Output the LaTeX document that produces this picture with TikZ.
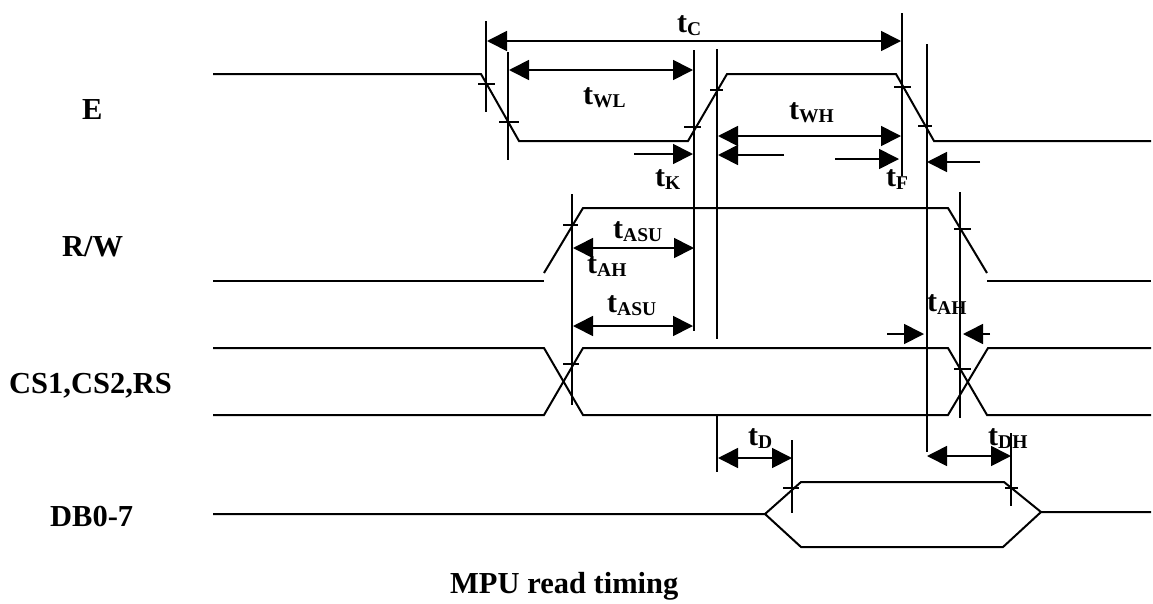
\documentclass[tikz,border=0pt]{standalone}
\usepackage{fontspec}
\setmainfont{Liberation Serif}
\usetikzlibrary{arrows.meta}
\newcommand{\tlab}[1]{{\fontsize{30}{30}\selectfont t}\raisebox{-3pt}{\fontsize{19.5}{20}\selectfont #1}}
\tikzset{
  wave/.style={line width=2pt,line join=miter},
  vline/.style={line width=1.7pt},
  tickmark/.style={line width=1.4pt},
  dimm/.style={line width=1.7pt,{Triangle[length=20pt,width=20pt]}-{Triangle[length=20pt,width=20pt]}},
  oneway/.style={line width=1.7pt,-{Triangle[length=20pt,width=20pt]}},
  lab/.style={inner sep=0pt,anchor=base west,font=\bfseries},
  siglab/.style={inner sep=0pt,anchor=base west,font=\bfseries\fontsize{30.5}{31}\selectfont}
}
\begin{document}
\begin{tikzpicture}[x=1pt,y=-1pt]
\useasboundingbox (0,0) rectangle (1153,603);
% labels
\node[siglab] (lE) at (82,119) {E};
\node[siglab] (lRW) at (62,256) {R/W};
\node[siglab] (lCS) at (9,393) {CS1,CS2,RS};
\node[siglab] (lDB) at (50,526) {DB0-7};
\node[siglab] (lT) at (450,593) {MPU read timing};
\node[lab] (tC) at (677,32) {\tlab{C}};
\node[lab] (tWL) at (583,104) {\tlab{WL}};
\node[lab] (tK) at (655,186) {\tlab{K}};
\node[lab] (tWH) at (789,119) {\tlab{WH}};
\node[lab] (tF) at (886,186) {\tlab{F}};
\node[lab] (tASUa) at (613,238) {\tlab{ASU}};
\node[lab] (tAHa) at (587,273) {\tlab{AH}};
\node[lab] (tASUb) at (607,312) {\tlab{ASU}};
\node[lab] (tAHb) at (927,311) {\tlab{AH}};
\node[lab] (tD) at (748,445) {\tlab{D}};
\node[lab] (tDH) at (988,445) {\tlab{DH}};
% waveforms
\draw[wave] (213,74) -- (481,74) -- (519,141) -- (688,141) -- (727,74) -- (896,74) -- (934,141) -- (1151,141);
\draw[wave] (213,281) -- (544,281);
\draw[wave] (544,273) -- (583,208) -- (948,208) -- (987,273);
\draw[wave] (987,281) -- (1151,281);
\draw[wave] (213,348) -- (544,348) -- (583,415) -- (948,415) -- (988,348) -- (1151,348);
\draw[wave] (213,415) -- (544,415) -- (583,348) -- (948,348) -- (987,415) -- (1151,415);
\draw[wave] (213,514) -- (765,514) -- (801,482) -- (1004,482) -- (1041,512) -- (1151,512);
\draw[wave] (765,514) -- (801,547) -- (1003,547) -- (1041,512);
% vertical guides
\foreach \x/\a/\b in {486/21/112,508/52/160,694/50/331,717/49/339,902/13/176,927/44/452,572/194/405,960/192/418,717/416/472,792/440/513,1011/433/506}
  \draw[vline] (\x,\a) -- (\x,\b);
% ticks
\foreach \a/\b/\y in {478/495/84,499/519/122,684/701/127,710/723/90,894/911/87,918/932/126,563/578/225,954/971/229,563/579/364,954/971/369,783/799/488,1005/1018/488}
  \draw[tickmark] (\a,\y) -- (\b,\y);
% dimension arrows
\draw[dimm] (487,41) -- (901,41);
\draw[dimm] (509,70) -- (693,70);
\draw[dimm] (718,136) -- (901,136);
\draw[dimm] (573,248) -- (694,248);
\draw[dimm] (573,326) -- (693,326);
\draw[dimm] (718,458) -- (792,458);
\draw[dimm] (927,456) -- (1011,456);
\draw[oneway] (634,154) -- (693,154);
\draw[oneway] (784,155) -- (718,155);
\draw[oneway] (835,159) -- (899,159);
\draw[oneway] (980,162) -- (927,162);
\draw[oneway] (887,334) -- (924,334);
\draw[oneway] (990,334) -- (963,334);
\end{tikzpicture}
\end{document}
